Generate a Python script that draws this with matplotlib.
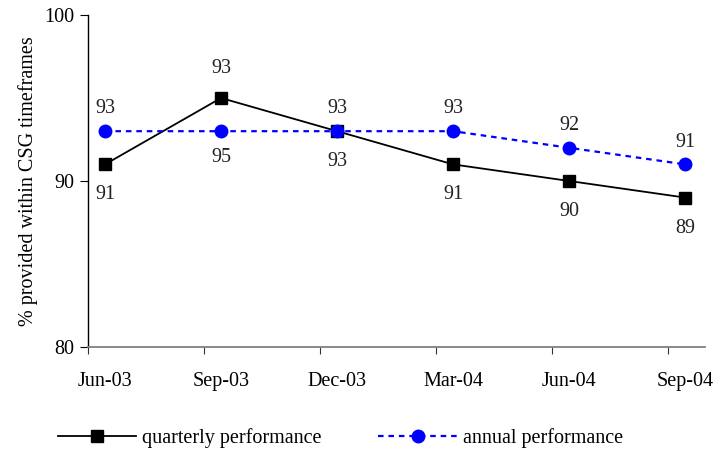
import matplotlib.pyplot as plt
import numpy as np

plt.rcParams['font.family'] = ['Liberation Serif', 'DejaVu Serif']

quarters = ["Jun-03", "Sep-03", "Dec-03", "Mar-04", "Jun-04", "Sep-04"]
quarterly = [91, 95, 93, 91, 90, 89]
annual = [93, 93, 93, 93, 92, 91]
quarterly_labels = ["91", "93", "93", "91", "90", "89"]
annual_labels = ["93", "95", "93", "93", "92", "91"]
quarterly_pos = ["below", "above", "below", "below", "below", "below"]
annual_pos = ["above", "below", "above", "above", "above", "above"]

x = np.arange(len(quarters))
fs = 14.5

fig = plt.figure(figsize=(7.15, 4.49), dpi=100)
ax = fig.add_axes([0.123, 0.2272, 0.863, 0.7394])

ax.plot(x, quarterly, color="black", lw=1.3, marker="s", markersize=8,
        label="quarterly performance")
ax.plot(x, annual, color="#0000ff", lw=1.6, ls=(0, (2.5, 2.2)), marker="o",
        markersize=9, label="annual performance")

for xi, yi, t, p in zip(x, quarterly, quarterly_labels, quarterly_pos):
    off = 21 if p == "above" else -22
    ax.annotate(t, (xi, yi), xytext=(0, off), textcoords="offset points",
                ha="center", va="center", fontsize=fs, color="#222222")
for xi, yi, t, p in zip(x, annual, annual_labels, annual_pos):
    off = 16 if p == "above" else -19
    ax.annotate(t, (xi, yi), xytext=(0, off), textcoords="offset points",
                ha="center", va="center", fontsize=fs, color="#222222")

ax.set_ylim(80, 100)
ax.set_yticks([80, 90, 100])
ax.set_xlim(-0.147, 5.17)

# ticks sit at month starts, labels under the points
ax.set_xticks(x - 0.147)
ax.set_xticklabels([])
ax.set_xticks(x, minor=True)
ax.set_xticklabels(quarters, minor=True)
ax.tick_params(axis="x", which="minor", length=0, pad=18, labelsize=fs)
ax.tick_params(axis="x", which="major", length=5, direction="out", color="#333333")
ax.tick_params(axis="y", length=6, direction="out", labelsize=fs, pad=4)

ax.spines["top"].set_visible(False)
ax.spines["right"].set_visible(False)
ax.spines["bottom"].set_color("#808080")
ax.spines["bottom"].set_linewidth(1.3)
ax.spines["left"].set_linewidth(1.0)

ax.set_ylabel("% provided within CSG timeframes", fontsize=fs, labelpad=4)

fig.legend(*ax.get_legend_handles_labels(), loc="center left",
           bbox_to_anchor=(0.081, 0.024), bbox_transform=fig.transFigure,
           ncol=2, frameon=False, fontsize=fs, handlelength=3.9,
           columnspacing=2.8, handletextpad=0.3, borderpad=0, borderaxespad=0)

fig.savefig("out.png", dpi=100)
